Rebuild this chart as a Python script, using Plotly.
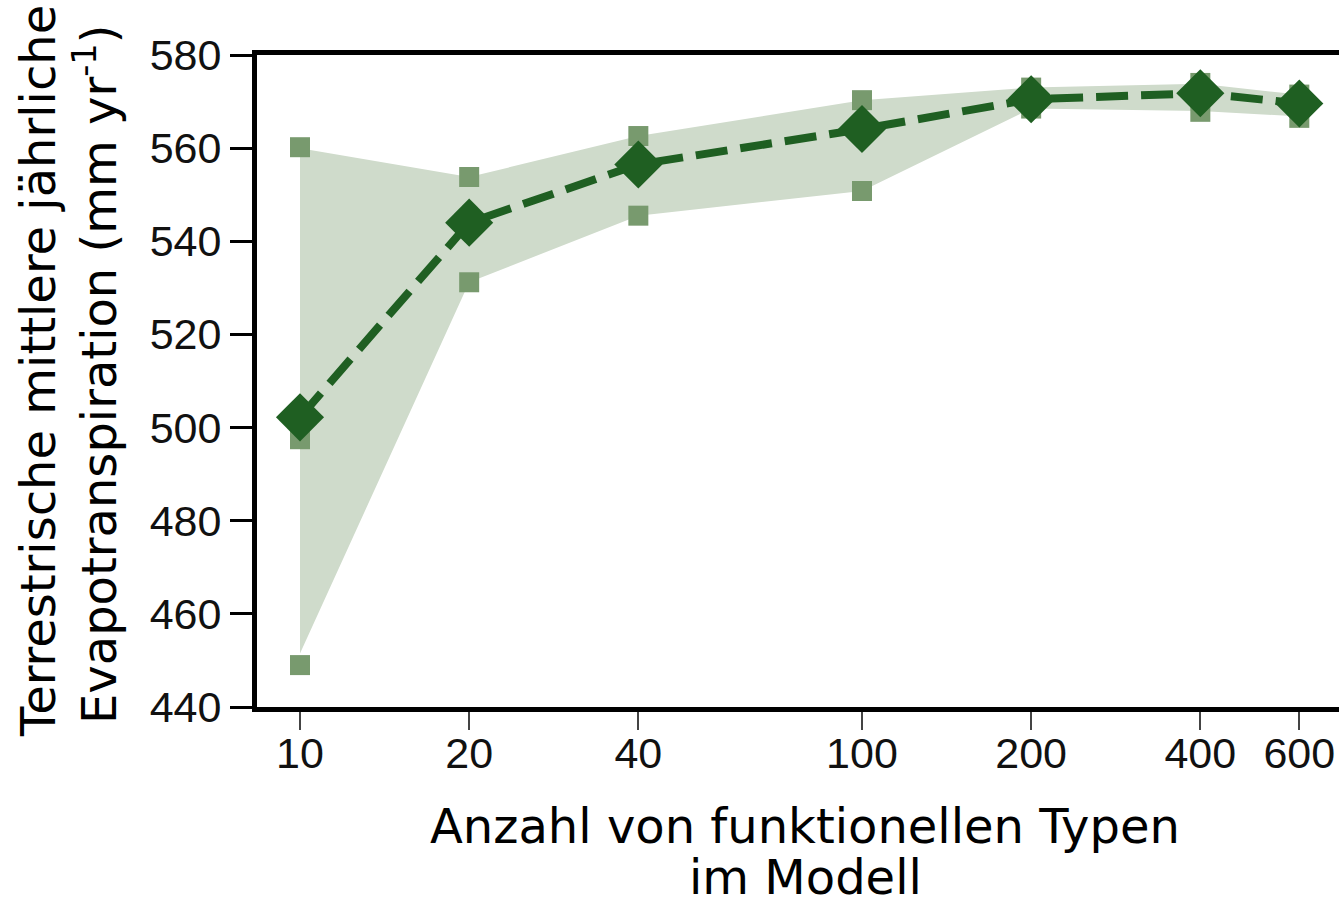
import plotly.graph_objects as go

# Data
n_types = [10, 20, 40, 100, 200, 400, 600]
tick_labels = ["10", "20", "40", "100", "200", "400", "600"]
et_mean = [502.2, 544.0, 556.5, 564.1, 570.5, 571.8, 569.6]
run_high = [560.2, 553.8, 562.6, 570.3, 573.0, 574.0, 571.5]
run_low = [449.0, 531.2, 545.5, 550.8, 568.5, 567.8, 566.5]
band_high = [560.0, 553.8, 562.6, 570.3, 573.0, 573.8, 571.5]
band_low = [451.5, 531.2, 545.5, 550.8, 568.5, 568.0, 566.8]
extra_run_x = [10]
extra_run_y = [497.5]

BAND = "#cfdbcb"
RUN = "#789a6e"
MEAN = "#1f5f22"

fig = go.Figure()
fig.add_trace(go.Scatter(
    x=n_types + n_types[::-1], y=band_high + band_low[::-1],
    fill="toself", fillcolor=BAND, line=dict(width=0), mode="lines",
    hoverinfo="skip", showlegend=False))
fig.add_trace(go.Scatter(
    x=n_types, y=et_mean, mode="lines",
    line=dict(color=MEAN, width=8, dash="32px,13px"), showlegend=False))
fig.add_trace(go.Scatter(
    x=n_types + n_types + extra_run_x, y=run_high + run_low + extra_run_y,
    mode="markers", marker=dict(symbol="square", size=20, color=RUN),
    showlegend=False))
fig.add_trace(go.Scatter(
    x=n_types, y=et_mean, mode="markers",
    marker=dict(symbol="diamond", size=37, color=MEAN), showlegend=False))

L, T, W, H = 257, 55, 1339, 901
PW, PH = W - L, 707 - T

def px_x(p):
    return (p - L) / PW

def px_y(p):
    return (707 - p) / PH

title_font = dict(family="DejaVu Sans", size=48, color="black")
fig.add_annotation(text="Anzahl von funktionellen Typen", x=px_x(805), y=px_y(826),
                   xref="paper", yref="paper", showarrow=False, font=title_font,
                   xanchor="center", yanchor="middle")
fig.add_annotation(text="im Modell", x=px_x(805), y=px_y(877),
                   xref="paper", yref="paper", showarrow=False, font=title_font,
                   xanchor="center", yanchor="middle")
fig.add_annotation(text="Terrestrische mittlere jährliche", x=px_x(38), y=px_y(371),
                   xref="paper", yref="paper", showarrow=False, font=title_font,
                   textangle=-90, xanchor="center", yanchor="middle")
fig.add_annotation(text="Evapotranspiration (mm yr<sup>-1</sup>)", x=px_x(96), y=px_y(375),
                   xref="paper", yref="paper", showarrow=False, font=title_font,
                   textangle=-90, xanchor="center", yanchor="middle")

tick_font = dict(family="Liberation Sans", size=43, color="#111111")
fig.update_layout(
    width=W, height=H,
    margin=dict(l=L, r=0, t=T, b=H - 707, pad=0),
    paper_bgcolor="white", plot_bgcolor="white",
    xaxis=dict(type="log", range=[0.9235, 2.8488], tickvals=n_types, ticktext=tick_labels,
               showgrid=False, zeroline=False, showline=True, linecolor="black",
               linewidth=5, mirror=True, ticks="outside", ticklen=18, tickwidth=1.5,
               tickcolor="#444444", tickfont=tick_font, ticklabelstandoff=-14),
    yaxis=dict(range=[440, 580], tickvals=[440, 460, 480, 500, 520, 540, 560, 580],
               showgrid=False, zeroline=False, showline=True, linecolor="black",
               linewidth=5, ticks="outside", ticklen=22, tickwidth=2.5,
               tickcolor="black", tickfont=tick_font),
)

fig.write_html("out.html")
